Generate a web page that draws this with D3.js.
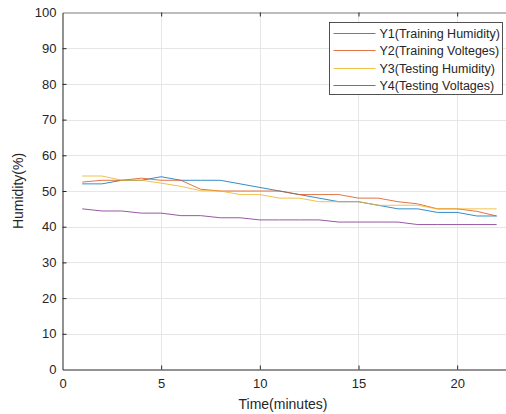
<!DOCTYPE html>
<html>
<head>
<meta charset="utf-8">
<script src="https://cdn.jsdelivr.net/npm/d3@7"></script>
<style>
  html, body { margin: 0; padding: 0; background: #fff; }
  svg { display: block; font-family: "Liberation Sans", Arial, sans-serif; }
</style>
</head>
<body>
<div id="chart"></div>
<script>
// Datos
const time = d3.range(1, 23);
const y1 = [52, 52, 53, 53, 54, 53, 53, 53, 52, 51, 50, 49, 48, 47, 47, 46, 45, 45, 44, 44, 43, 43];
const y2 = [52.5, 53, 53, 53.6, 53, 53, 50.5, 50, 50, 50, 50, 49, 49, 49, 48, 48, 47, 46.4, 45, 45, 44.3, 43];
const y3 = [54.2, 54.2, 53, 53, 52.2, 51.3, 50.1, 50, 49, 49, 48, 48, 47, 47, 47, 46, 46, 46, 45, 45, 45, 45];
const y4 = [45, 44.4, 44.4, 43.8, 43.8, 43.1, 43.1, 42.5, 42.5, 41.9, 41.9, 41.9, 41.9, 41.3, 41.3, 41.3, 41.3, 40.6, 40.6, 40.6, 40.6, 40.6];
const seriesNames = ['Y1(Training Humidity)', 'Y2(Training Volteges)', 'Y3(Testing Humidity)', 'Y4(Testing Voltages)'];
const xTicks = [0, 5, 10, 15, 20];
const yTicks = d3.range(0, 101, 10);

const colors = ['#0072BD', '#D95319', '#EDB120', '#7E2F8E'];
const series = [y1, y2, y3, y4].map((v, i) => ({ name: seriesNames[i], color: colors[i], values: v }));

const width = 506, height = 414;
const margin = { left: 62.5, top: 12.5, right: 0, bottom: 45 };

const svg = d3.select('#chart').append('svg')
  .attr('width', width)
  .attr('height', height);

const x = d3.scaleLinear().domain([0, 22.5]).range([margin.left, 506.5]);
const y = d3.scaleLinear().domain([0, 100]).range([369.5, margin.top]);

// Rejilla
const grid = svg.append('g').attr('stroke', '#e6e6e6').attr('stroke-width', 1);
grid.selectAll('.gx').data(xTicks.slice(1)).join('line')
  .attr('x1', d => Math.round(x(d)) + 0.5).attr('x2', d => Math.round(x(d)) + 0.5)
  .attr('y1', y(0)).attr('y2', y(100));
grid.selectAll('.gy').data(yTicks.slice(1, -1)).join('line')
  .attr('x1', x(0)).attr('x2', x(22.5))
  .attr('y1', d => Math.round(y(d)) + 0.5).attr('y2', d => Math.round(y(d)) + 0.5);

// Líneas
const line = d3.line().x((d, i) => x(time[i])).y(d => y(d));
svg.append('g').selectAll('path').data(series).join('path')
  .attr('fill', 'none')
  .attr('stroke', d => d.color)
  .attr('stroke-width', 1)
  .attr('stroke-opacity', 0.8)
  .attr('d', d => line(d.values));

// Ejes
const axisColor = '#262626';
const gx = svg.append('g').attr('transform', `translate(0,${y(0)})`)
  .call(d3.axisBottom(x).tickValues(xTicks).tickSizeInner(-4).tickSizeOuter(0).tickPadding(9));
const gxTop = svg.append('g').attr('transform', `translate(0,${y(100)})`)
  .call(d3.axisTop(x).tickValues(xTicks).tickSizeInner(-4).tickSizeOuter(0).tickFormat(''));
const gy = svg.append('g').attr('transform', `translate(${x(0)},0)`)
  .call(d3.axisLeft(y).tickValues(yTicks).tickSizeInner(-4).tickSizeOuter(0).tickPadding(6));

[gx, gxTop, gy].forEach(g => {
  g.select('.domain').attr('stroke', axisColor);
  g.selectAll('.tick line').attr('stroke', axisColor);
  g.selectAll('.tick text').attr('fill', axisColor).style('font-size', '13px');
});
gxTop.select('.domain').attr('stroke', '#7a7a7a');
gy.selectAll('.tick').filter(d => d === 0 || d === 100).select('line').remove();
gx.selectAll('.tick').filter(d => d === 0).select('line').remove();
gxTop.selectAll('.tick').filter(d => d === 0).select('line').remove();

// Etiquetas de ejes
svg.append('text')
  .attr('x', 283).attr('y', 409)
  .attr('text-anchor', 'middle')
  .attr('fill', axisColor)
  .style('font-size', '14px')
  .text('Time(minutes)');

svg.append('text')
  .attr('transform', `translate(23,${(y(0) + y(100)) / 2}) rotate(-90)`)
  .attr('text-anchor', 'middle')
  .attr('fill', axisColor)
  .style('font-size', '14px')
  .text('Humidity(%)');

// Leyenda
const legend = svg.append('g').attr('transform', 'translate(329.5,22.5)');
legend.append('rect')
  .attr('width', 173).attr('height', 72)
  .attr('fill', '#fff')
  .attr('stroke', axisColor)
  .attr('stroke-width', 0.8);
const item = legend.selectAll('.item').data(series).join('g')
  .attr('transform', (d, i) => `translate(0,${Math.round(11 + i * 17.3)})`);
item.append('line')
  .attr('x1', 4).attr('x2', 46)
  .attr('stroke', d => d.color)
  .attr('stroke-opacity', 0.8)
  .attr('stroke-width', 1);
item.append('text')
  .attr('x', 50).attr('dy', '0.35em')
  .attr('fill', axisColor)
  .style('font-size', '12.5px')
  .text(d => d.name);
</script>
</body>
</html>
